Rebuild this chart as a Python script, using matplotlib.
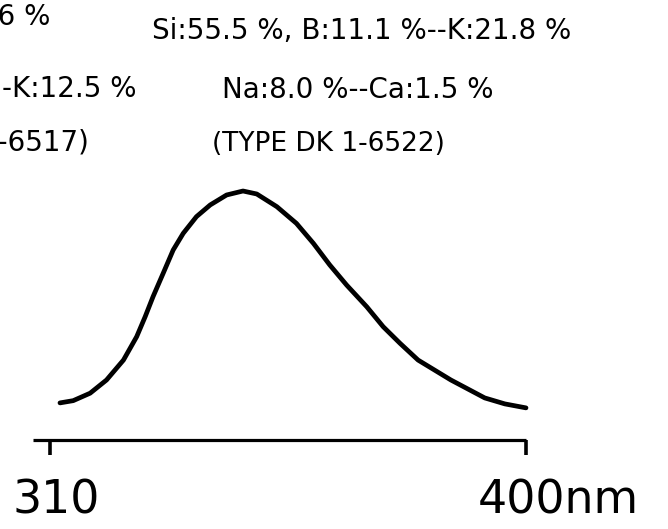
import matplotlib
matplotlib.use('Agg')
import matplotlib.pyplot as plt
import matplotlib.transforms as mtransforms

# emission curve (wavelength in nm, relative intensity)
wavelength = [311.9, 314.4, 317.6, 320.7, 323.9, 326.4, 328.0, 329.5, 331.4,
              333.3, 335.2, 337.7, 340.3, 343.4, 346.5, 349.1, 352.9, 356.6,
              359.8, 362.9, 366.1, 369.9, 373.0, 376.2, 379.6, 385.8, 392.2,
              396.0, 400.0]
intensity = [14.9, 15.8, 18.8, 24.1, 32.1, 41.5, 49.5, 57.6, 66.9,
             76.3, 83.0, 89.7, 94.4, 98.4, 100.0, 98.8, 93.7, 87.0,
             79.0, 70.3, 62.2, 53.5, 45.5, 38.8, 32.1, 24.1, 16.9,
             14.5, 12.9]

tick_values = [310, 400]
tick_labels = ['310', '400nm']

# composition notes (left column belongs to the neighbouring panel, cut by the crop)
left_notes = ['56 %', '-K:12.5 %', '7-6517)']
right_notes = ['Si:55.5 %, B:11.1 %--K:21.8 %', 'Na:8.0 %--Ca:1.5 %',
               '(TYPE DK 1-6522)']

W, H = 668, 529
fig = plt.figure(figsize=(W / 100, H / 100), dpi=100)

# axes placed so the bottom spine is the drawn wavelength bar
left_px, right_px, base_px, top_px = 33, 526, 440, 191
ax = fig.add_axes([left_px / W, 1 - base_px / H,
                   (right_px - left_px) / W, (base_px - top_px) / H])
ax.set_xlim(306.8, 400)
ax.set_ylim(0, 100)

ax.plot(wavelength, intensity, color='black', lw=3.4,
        solid_joinstyle='round', solid_capstyle='round', clip_on=False)

for side in ['top', 'right', 'left']:
    ax.spines[side].set_visible(False)
ax.spines['bottom'].set_linewidth(2.3)
ax.spines['bottom'].set_capstyle('butt')
ax.set_yticks([])
ax.set_xticks(tick_values)
ax.set_xticklabels(tick_labels)
ax.tick_params(axis='x', direction='out', length=11, width=2.6,
               pad=17, labelsize=33)
ax.patch.set_alpha(0)

# "400nm": the number sits under the tick, the unit runs on to the right
lab = ax.get_xticklabels()[1]
lab.set_ha('left')
lab.set_transform(lab.get_transform() +
                  mtransforms.ScaledTranslation(-48 / 100, 0, fig.dpi_scale_trans))
lab0 = ax.get_xticklabels()[0]
lab0.set_transform(lab0.get_transform() +
                   mtransforms.ScaledTranslation(6 / 100, 0, fig.dpi_scale_trans))

txt = dict(fontsize=20, color='black', va='baseline')
fig.text(50 / W, 1 - 25 / H, left_notes[0], ha='right', **txt)
fig.text(137 / W, 1 - 97 / H, left_notes[1], ha='right', **txt)
fig.text(90 / W, 1 - 150 / H, left_notes[2], ha='right', **txt)
fig.text(152 / W, 1 - 39 / H, right_notes[0], ha='left', **txt)
fig.text(222 / W, 1 - 98 / H, right_notes[1], ha='left', **txt)
fig.text(212 / W, 1 - 151 / H, right_notes[2], ha='left',
         **dict(txt, fontsize=19))

fig.savefig('out.png', dpi=100, facecolor='white')
